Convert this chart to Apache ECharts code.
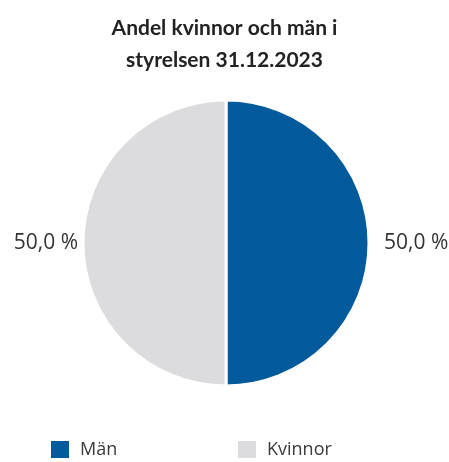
<!DOCTYPE html>
<html><head><meta charset="utf-8">
<script src="https://cdn.jsdelivr.net/npm/echarts@6/dist/echarts.min.js"></script>
<style>html,body{margin:0;padding:0;background:#fff}#c{width:449px;height:462px}</style>
</head><body><div id="c"></div>
<script>
const categories = ['Män', 'Kvinnor'];
const values = [50.0, 50.0];
const colors = ['#005a9c', '#dcdcde'];
const titleText = 'Andel kvinnor och män i\nstyrelsen 31.12.2023';

const chart = echarts.init(document.getElementById('c'), null, {renderer: 'canvas'});
const lineLens = [[6, 4], [0, 0]];
const data = categories.map((n, i) => ({
  name: n, value: values[i], itemStyle: {color: colors[i]},
  labelLine: {show: false, length: lineLens[i][0], length2: lineLens[i][1]}
}));
chart.setOption({
  animation: false,
  title: {
    text: titleText, left: 'center', top: 7,
    textStyle: {fontFamily: 'Lato', fontWeight: 'bold', fontSize: 21, lineHeight: 32, color: '#222'}
  },
  legend: [
    {data: [categories[0]], left: 49, top: 439, padding: 0, itemWidth: 20, itemHeight: 19, icon: 'rect', itemGap: 10,
     textStyle: {fontFamily: 'Open Sans', fontSize: 18, color: '#3a3a3a', padding: [0, 0, 0, 5]}},
    {data: [categories[1]], left: 236, top: 439, padding: 0, itemWidth: 20, itemHeight: 19, icon: 'rect', itemGap: 10,
     textStyle: {fontFamily: 'Open Sans', fontSize: 18, color: '#3a3a3a', padding: [0, 0, 0, 5]}}
  ],
  series: [{
    type: 'pie',
    center: [226, 243],
    radius: [0, 143],
    startAngle: 90,
    clockwise: true,
    data: data,
    itemStyle: {borderColor: '#fff', borderWidth: 3},
    label: {
      show: true, position: 'outside', overflow: 'none',
      formatter: p => p.value.toFixed(1).replace('.', ',') + ' %',
      fontFamily: 'Open Sans', fontSize: 21, color: '#333'
    },
    labelLine: {show: false, length: 6, length2: 4},
    emphasis: {disabled: true}
  }]
});
</script></body></html>
